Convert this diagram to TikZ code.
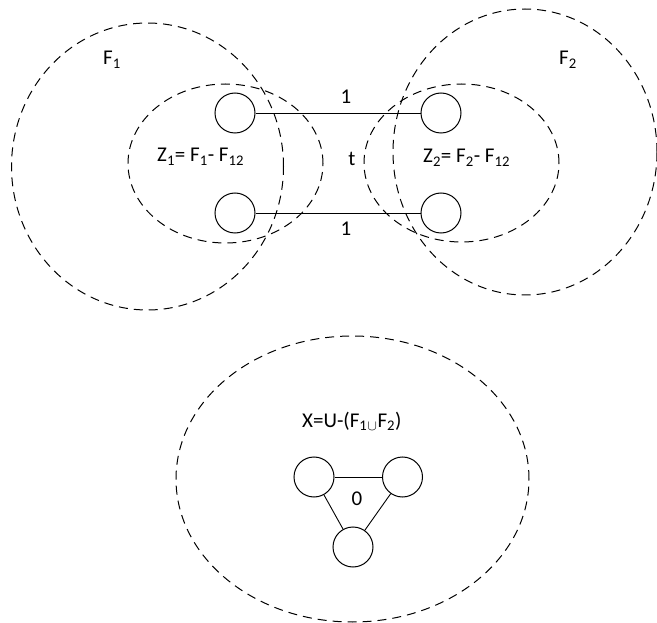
\documentclass[tikz,border=0pt]{standalone}
\usepackage{fontspec}
\setmainfont{Carlito}
\usetikzlibrary{shapes.geometric}
\begin{document}
\begin{tikzpicture}[x=1pt,y=-1pt,
  region/.style={ellipse,draw,dash pattern=on 9pt off 6pt,line width=1pt,inner sep=0pt},
  vtx/.style={circle,draw,line width=1pt,minimum size=40pt,inner sep=0pt},
  link/.style={line width=0.9pt},
  lbl/.style={font=\fontsize{21}{25}\selectfont,inner sep=0pt}]
\useasboundingbox (0,0) rectangle (657,623);
% regions
\node[region,minimum width=272pt,minimum height=287pt] (F1) at (147.5,166.5) {};
\node[region,minimum width=264pt,minimum height=286pt] (F2) at (525,152) {};
\node[region,minimum width=195pt,minimum height=159pt] (Z1) at (225.5,163.5) {};
\node[region,minimum width=195pt,minimum height=158pt] (Z2) at (461.5,163) {};
\node[region,minimum width=353pt,minimum height=286pt] (X) at (352.5,479) {};
% vertices
\node[vtx] (a1) at (235,113) {};
\node[vtx] (a2) at (235,213) {};
\node[vtx] (b1) at (441,113) {};
\node[vtx] (b2) at (441,213) {};
\node[vtx] (c1) at (314,477) {};
\node[vtx] (c2) at (402.5,477) {};
\node[vtx] (c3) at (353,547) {};
% connectors
\draw[link] (a1) -- (b1);
\draw[link] (a2) -- (b2);
\draw[link] (c1) -- (c2);
\draw[link] (c1) -- (c3);
\draw[link] (c2) -- (c3);
% labels
\node[lbl,anchor=base west] (lF1) at (103,65) {F\textsubscript{1}};
\node[lbl,anchor=base west] (lF2) at (559,65) {F\textsubscript{2}};
\node[lbl,anchor=base west] (lZ1) at (157,162) {Z\textsubscript{1}= F\textsubscript{1}- F\textsubscript{12}};
\node[lbl,anchor=base west] (lZ2) at (423,163) {Z\textsubscript{2}= F\textsubscript{2}- F\textsubscript{12}};
\node[lbl] (l1a) at (346,97) {1};
\node[lbl] (l1b) at (346,229) {1};
\node[lbl] (lt) at (352,159) {t};
\node[lbl,anchor=base west] (lX) at (302,427) {X=U-(F\textsubscript{1}\textsubscript{$\cup$}F\textsubscript{2})};
\node[lbl] (l0) at (357,499) {0};
\end{tikzpicture}
\end{document}
